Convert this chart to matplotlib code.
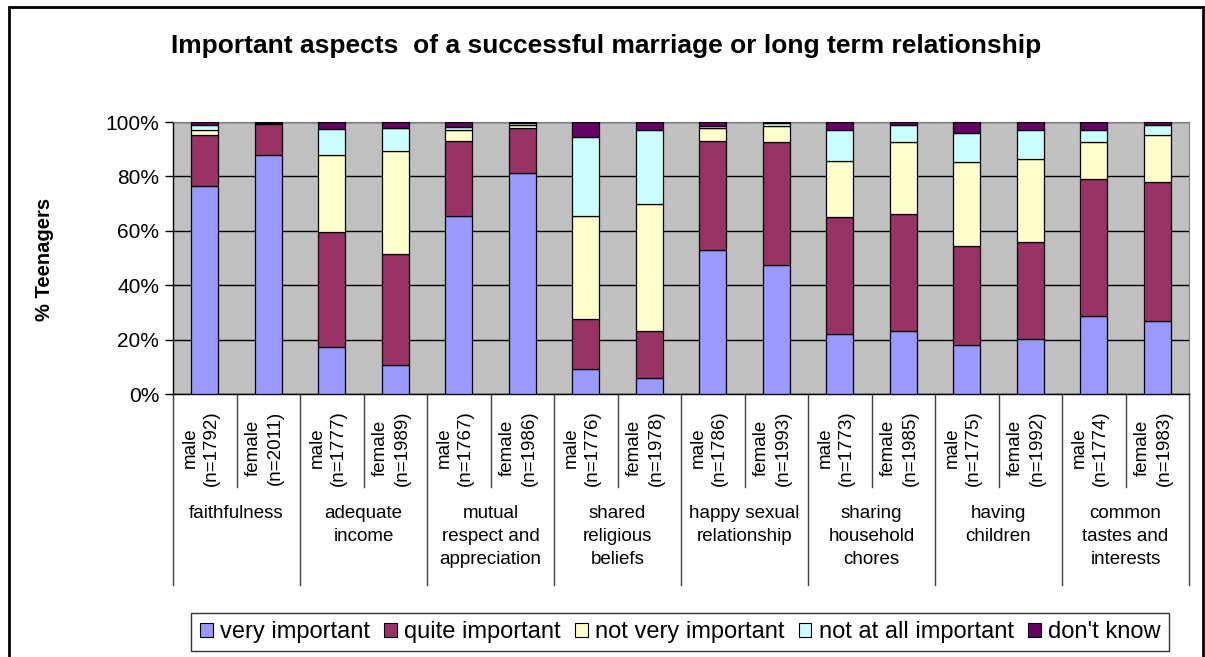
import numpy as np
import matplotlib
matplotlib.use("Agg")
import matplotlib.pyplot as plt
import matplotlib.transforms as mtransforms
from matplotlib.patches import Rectangle, Patch

plt.rcParams['font.family'] = ['Liberation Sans', 'DejaVu Sans']

# aspects (groups) and bars
aspects = ["faithfulness", "adequate\nincome", "mutual\nrespect and\nappreciation",
           "shared\nreligious\nbeliefs", "happy sexual\nrelationship",
           "sharing\nhousehold\nchores", "having\nchildren",
           "common\ntastes and\ninterests"]
bar_labels = ["male\n(n=1792)", "female\n(n=2011)", "male\n(n=1777)", "female\n(n=1989)",
              "male\n(n=1767)", "female\n(n=1986)", "male\n(n=1776)", "female\n(n=1978)",
              "male\n(n=1786)", "female\n(n=1993)", "male\n(n=1773)", "female\n(n=1985)",
              "male\n(n=1775)", "female\n(n=1992)", "male\n(n=1774)", "female\n(n=1983)"]

# percentages per answer
very_important = [76.6, 87.7, 17.4, 10.6, 65.5, 81.1, 9.3, 5.9,
                  52.9, 47.6, 22.1, 23.3, 18.0, 20.1, 28.7, 26.9]
quite_important = [18.6, 11.6, 42.2, 40.9, 27.6, 16.7, 18.2, 17.4,
                   40.2, 44.9, 42.9, 43.0, 36.4, 35.6, 50.3, 50.9]
not_very_important = [1.9, 0.3, 28.3, 37.7, 4.0, 1.2, 38.0, 46.4,
                      4.7, 6.2, 20.8, 26.2, 30.9, 30.8, 13.5, 17.5]
not_at_all_important = [1.7, 0.1, 9.4, 8.7, 0.9, 0.5, 29.0, 27.5,
                        0.9, 1.1, 11.4, 6.3, 10.7, 10.7, 4.7, 3.6]
dont_know = [1.2, 0.3, 2.7, 2.1, 2.0, 0.5, 5.5, 2.8,
             1.3, 0.2, 2.8, 1.2, 4.0, 2.8, 2.8, 1.1]

series = [("very important", very_important, "#9999FF"),
          ("quite important", quite_important, "#993366"),
          ("not very important", not_very_important, "#FFFFCC"),
          ("not at all important", not_at_all_important, "#CCFFFF"),
          ("don't know", dont_know, "#660066")]

W, H = 1205, 657
fig = plt.figure(figsize=(W / 100, H / 100), dpi=100)
ax = fig.add_axes([173 / W, 1 - 394 / H, (1189 - 173) / W, (394 - 122) / H])
ax.set_facecolor("#C0C0C0")

x = np.arange(len(bar_labels))
bottom = np.zeros(len(x))
handles = []
for name, vals, col in series:
    vals = np.array(vals)
    ax.bar(x, vals, 0.42, bottom=bottom, color=col, edgecolor="black",
           linewidth=0.9, zorder=3)
    bottom += vals
    handles.append(Patch(facecolor=col, edgecolor="black", linewidth=0.8, label=name))

ax.set_xlim(-0.5, len(x) - 0.5)
ax.set_ylim(0, 100)
ax.set_yticks([0, 20, 40, 60, 80, 100])
ax.set_yticklabels(["0%", "20%", "40%", "60%", "80%", "100%"], fontsize=15)
ax.yaxis.grid(True, color="black", linewidth=1.0, zorder=0)
ax.set_axisbelow(True)
ax.tick_params(axis="y", direction="out", length=6, width=1, pad=4)
ax.set_xticks([])
for s in ["top", "right"]:
    ax.spines[s].set_color("#808080")
for s in ["left", "bottom"]:
    ax.spines[s].set_color("black")
    ax.spines[s].set_linewidth(1.0)

fig.text(45 / W, 1 - 259 / H, "% Teenagers", rotation=90, ha="center", va="center",
         fontsize=14.5, fontweight="bold")

# category axis: bar labels, separators, group labels
trans = mtransforms.blended_transform_factory(ax.transData, ax.transAxes)
h_ax = 272.0
for i, lab in enumerate(bar_labels):
    ax.text(i - 0.06, -(448 - 394) / h_ax, lab, transform=trans, rotation=90,
            ha="center", va="center", multialignment="center", fontsize=13.5,
            linespacing=1.35, clip_on=False)
for k in range(len(x) + 1):
    xs = k - 0.5
    low = -(585 - 394) / h_ax if k % 2 == 0 else -(487 - 394) / h_ax
    ax.plot([xs, xs], [0, low], transform=trans, color="#404040", linewidth=1.0,
            clip_on=False)
for g, lab in enumerate(aspects):
    ax.text(2 * g + 0.5, -(505 - 394) / h_ax, lab, transform=trans,
            ha="center", va="top", multialignment="center", fontsize=13.5,
            linespacing=1.45, clip_on=False)

fig.text(606 / W, 1 - 53 / H, "Important aspects  of a successful marriage or long term relationship",
         ha="center", va="baseline", fontsize=19, fontweight="bold")

leg = fig.legend(handles=handles, loc="center", bbox_to_anchor=(680 / W, 1 - 632 / H),
                 ncol=5, fontsize=17, frameon=True, fancybox=False,
                 handlelength=0.55, handleheight=0.55, handletextpad=0.3,
                 columnspacing=0.6, borderpad=0.35, edgecolor="black")
leg.get_frame().set_linewidth(1.0)

fig.patches.append(Rectangle((9 / W, -0.05), (1203 - 9) / W, 1 - 7 / H + 0.05,
                             transform=fig.transFigure, fill=False,
                             edgecolor="black", linewidth=2))

fig.savefig("out.png", dpi=100)
